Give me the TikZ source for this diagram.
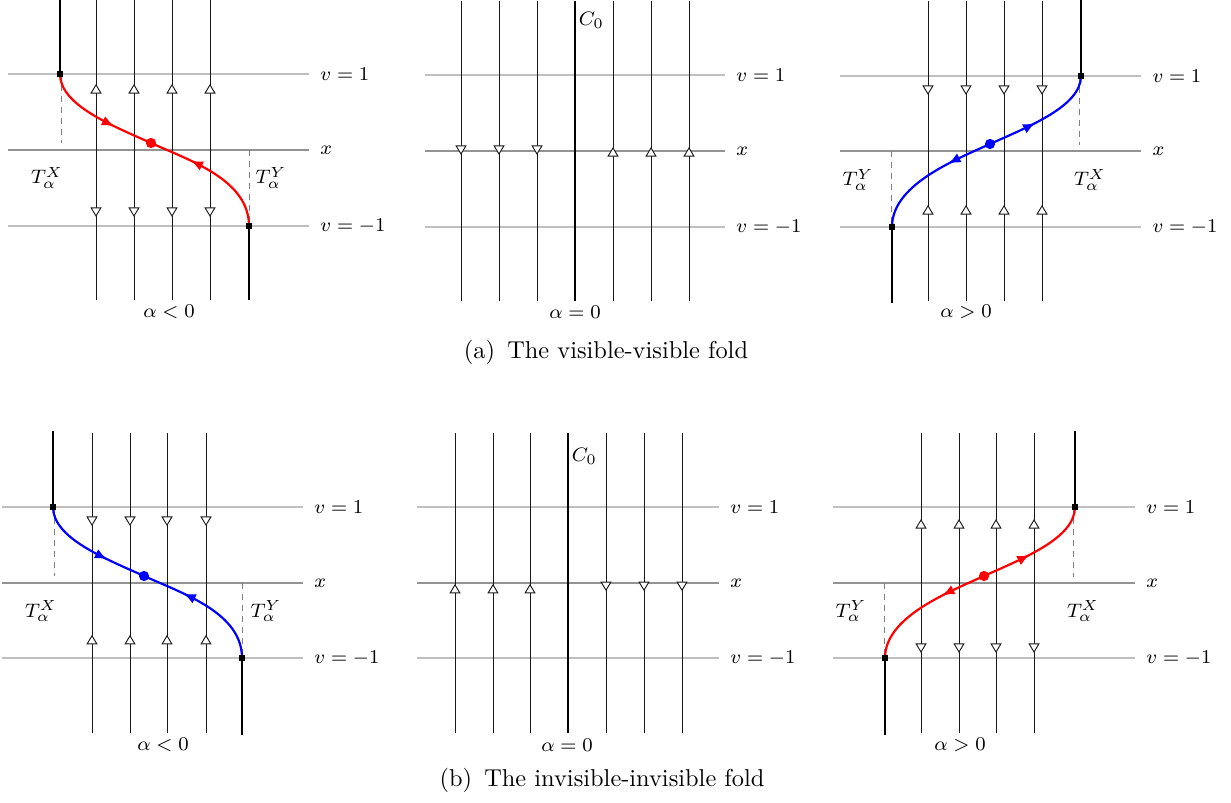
\documentclass[tikz,border=0pt]{standalone}
\usepackage{tikz}
\usetikzlibrary{arrows.meta, decorations.markings}

\begin{document}
\begin{tikzpicture}[
  x=0.41pt, y=-0.41pt,
  font=\footnotesize,
  thinline/.style={black!90, line width=0.38pt},
  boldline/.style={black, line width=1.2pt},
  vlevel/.style={gray!50, line width=0.6pt},
  xlevel/.style={gray!85, line width=0.6pt},
  guide/.style={gray, line width=0.4pt, dash pattern=on 2.5pt off 2pt},
  uptri/.style={postaction={decorate, decoration={markings, mark=at position #1 with {\arrowreversed{Triangle[open, fill=white, width=4.6pt, length=3.9pt]}}}}},
  dntri/.style={postaction={decorate, decoration={markings, mark=at position #1 with {\arrow{Triangle[open, fill=white, width=4.6pt, length=3.9pt]}}}}},
  flow/.style={postaction={decorate, decoration={markings, mark=at position #1 with {\arrow{Latex[length=5pt, width=4.2pt]}}}}},
  fold/.style={line width=0.9pt},
  endpt/.style={fill=black, inner sep=0pt, minimum size=2.4pt},
  lbl/.style={anchor=west, inner sep=0pt},
  caption/.style={font=\normalsize, inner sep=0pt}
]

\useasboundingbox (0,0) rectangle (1231,803);

% =========================
% (a) visible-visible, alpha < 0
% =========================
\begin{scope}[shift={(8,150)}]
\draw[vlevel] (0,-76) -- (301,-76);
\draw[xlevel] (0,0) -- (301,0);
\draw[vlevel] (0,76) -- (301,76);
\node[lbl] (a1v1) at (312,-76) {$v=1$};
\node[lbl] (a1x) at (312,0) {$x$};
\node[lbl] (a1vm) at (312,76) {$v=-1$};

\draw[boldline] (52,-150) -- (52,-76);
\foreach \px in {88,126,164,202}
  \draw[thinline, uptri=0.28, dntri=0.723] (\px,-150) -- (\px,150);
\draw[boldline] (241,76) -- (241,150);

\draw[guide] (53,-76) -- (53,-7);
\draw[guide] (241,0) -- (241,76);

% red fold curve, both halves run into the dot
\draw[red, fold, flow=0.66] (52,-76) .. controls (52,-45) and (103,-25) .. (143,-7);
\draw[red, fold, flow=0.68] (241,76) .. controls (241,30) and (183,11) .. (143,-7);
\fill[red] (143,-7) circle[radius=2.1pt];
\node[endpt] (a1top) at (52,-76) {};
\node[endpt] (a1bot) at (241,76) {};

\node (a1tx) at (39,28) {$T^X_\alpha$};
\node (a1ty) at (263,28) {$T^Y_\alpha$};
\node (a1al) at (161,162) {$\alpha<0$};
\end{scope}

% =========================
% (a) visible-visible, alpha = 0
% =========================
\begin{scope}[shift={(425,151)}]
\draw[vlevel] (0,-76) -- (300,-76);
\draw[xlevel] (0,0) -- (300,0);
\draw[vlevel] (0,76) -- (300,76);
\node[lbl] (a2v1) at (311,-76) {$v=1$};
\node[lbl] (a2x) at (311,0) {$x$};
\node[lbl] (a2vm) at (311,76) {$v=-1$};

\foreach \px in {36,74,112}
  \draw[thinline, dntri=0.513] (\px,-150) -- (\px,150);
\draw[boldline] (150,-150) -- (150,150);
\foreach \px in {188,226,264}
  \draw[thinline, uptri=0.487] (\px,-150) -- (\px,150);

\node[anchor=west, inner sep=1pt] (a2c) at (151,-131) {$C_0$};
\node (a2al) at (150,161) {$\alpha=0$};
\end{scope}

% =========================
% (a) visible-visible, alpha > 0
% =========================
\begin{scope}[shift={(840,151)}]
\draw[vlevel] (0,-75) -- (301,-75);
\draw[xlevel] (0,0) -- (301,0);
\draw[vlevel] (0,76) -- (301,76);
\node[lbl] (a3v1) at (312,-75) {$v=1$};
\node[lbl] (a3x) at (312,0) {$x$};
\node[lbl] (a3vm) at (312,76) {$v=-1$};

\draw[boldline] (241,-151) -- (241,-75);
\foreach \px in {88,126,164,202}
  \draw[thinline, dntri=0.313, uptri=0.68] (\px,-150) -- (\px,150);
\draw[boldline] (52,76) -- (52,152);

\draw[guide] (239,-75) -- (239,-6);
\draw[guide] (51,0) -- (51,76);

% blue fold curve, both halves leave the dot
\draw[blue, fold, flow=0.42] (150,-7) .. controls (190,-25) and (241,-45) .. (241,-75);
\draw[blue, fold, flow=0.34] (150,-7) .. controls (110,11) and (52,35) .. (52,76);
\fill[blue] (150,-7) circle[radius=2.1pt];
\node[endpt] (a3top) at (241,-75) {};
\node[endpt] (a3bot) at (52,76) {};

\node (a3ty) at (18,29) {$T^Y_\alpha$};
\node (a3tx) at (250,29) {$T^X_\alpha$};
\node (a3al) at (126,161) {$\alpha>0$};
\end{scope}

\node[caption] (capa) at (606,352) {(a)\enspace The visible-visible fold};

% =========================
% (b) invisible-invisible, alpha < 0
% =========================
\begin{scope}[shift={(2,583)}]
\draw[vlevel] (0,-76) -- (301,-76);
\draw[xlevel] (0,0) -- (301,0);
\draw[vlevel] (0,75) -- (301,75);
\node[lbl] (b1v1) at (312,-76) {$v=1$};
\node[lbl] (b1x) at (312,0) {$x$};
\node[lbl] (b1vm) at (312,75) {$v=-1$};

\draw[boldline] (51,-152) -- (51,-76);
\foreach \px in {90,128,165,204}
  \draw[thinline, dntri=0.31, uptri=0.673] (\px,-150) -- (\px,150);
\draw[boldline] (240,75) -- (240,152);

\draw[guide] (52,-76) -- (52,-7);
\draw[guide] (240,0) -- (240,75);

% blue fold curve, both halves run into the dot
\draw[blue, fold, flow=0.66] (51,-76) .. controls (51,-45) and (102,-25) .. (142,-7);
\draw[blue, fold, flow=0.68] (240,75) .. controls (240,30) and (182,11) .. (142,-7);
\fill[blue] (142,-7) circle[radius=2.1pt];
\node[endpt] (b1top) at (51,-76) {};
\node[endpt] (b1bot) at (240,75) {};

\node (b1tx) at (39,28) {$T^X_\alpha$};
\node (b1ty) at (264,28) {$T^Y_\alpha$};
\node (b1al) at (161,162) {$\alpha<0$};
\end{scope}

% =========================
% (b) invisible-invisible, alpha = 0
% =========================
\begin{scope}[shift={(417,583)}]
\draw[vlevel] (0,-76) -- (302,-76);
\draw[xlevel] (0,0) -- (302,0);
\draw[vlevel] (0,75) -- (302,75);
\node[lbl] (b2v1) at (313,-76) {$v=1$};
\node[lbl] (b2x) at (313,0) {$x$};
\node[lbl] (b2vm) at (313,75) {$v=-1$};

\foreach \px in {38,76,113}
  \draw[thinline, uptri=0.503] (\px,-150) -- (\px,150);
\draw[boldline] (151,-150) -- (151,150);
\foreach \px in {189,227,265}
  \draw[thinline, dntri=0.527] (\px,-150) -- (\px,150);

\node[anchor=west, inner sep=1pt] (b2c) at (152,-127) {$C_0$};
\node (b2al) at (150,162) {$\alpha=0$};
\end{scope}

% =========================
% (b) invisible-invisible, alpha > 0
% =========================
\begin{scope}[shift={(833,583)}]
\draw[vlevel] (0,-76) -- (302,-76);
\draw[xlevel] (0,0) -- (302,0);
\draw[vlevel] (0,75) -- (302,75);
\node[lbl] (b3v1) at (313,-76) {$v=1$};
\node[lbl] (b3x) at (313,0) {$x$};
\node[lbl] (b3vm) at (313,75) {$v=-1$};

\draw[boldline] (242,-152) -- (242,-76);
\foreach \px in {88,126,163,201}
  \draw[thinline, uptri=0.287, dntri=0.733] (\px,-150) -- (\px,150);
\draw[boldline] (52,75) -- (52,152);

\draw[guide] (240,-76) -- (240,-6);
\draw[guide] (51,0) -- (51,75);

% red fold curve, both halves leave the dot
\draw[red, fold, flow=0.42] (151,-7) .. controls (191,-25) and (242,-45) .. (242,-76);
\draw[red, fold, flow=0.34] (151,-7) .. controls (111,11) and (52,35) .. (52,75);
\fill[red] (151,-7) circle[radius=2.1pt];
\node[endpt] (b3top) at (242,-76) {};
\node[endpt] (b3bot) at (52,75) {};

\node (b3ty) at (18,28) {$T^Y_\alpha$};
\node (b3tx) at (250,28) {$T^X_\alpha$};
\node (b3al) at (127,162) {$\alpha>0$};
\end{scope}

\node[caption] (capb) at (602,780) {(b)\enspace The invisible-invisible fold};

\end{tikzpicture}
\end{document}
